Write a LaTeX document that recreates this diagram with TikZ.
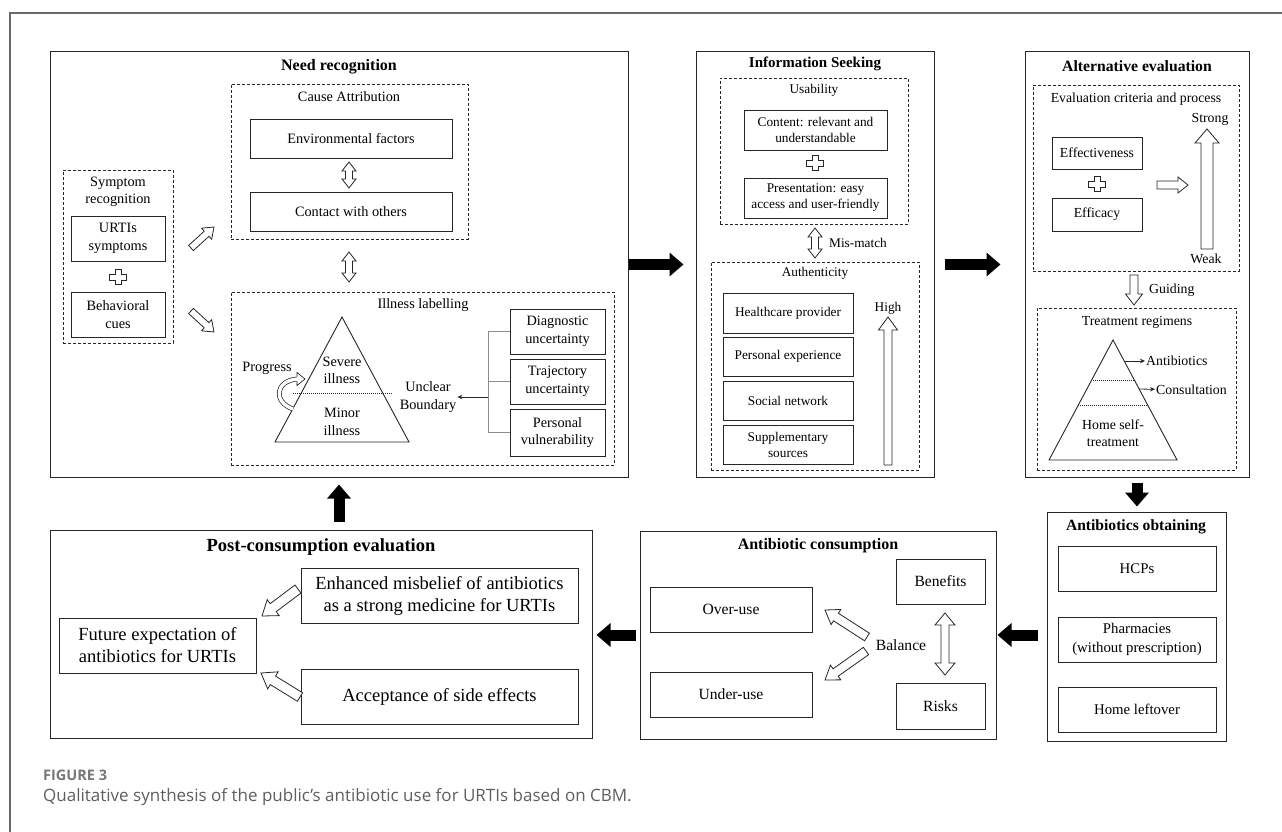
\documentclass[tikz,border=0pt]{standalone}
\usepackage{fontspec}
\setmainfont{Liberation Serif}
\newfontfamily\capfont{Open Sans}
\usepackage{xcolor}
\definecolor{cLine}{HTML}{262626}
\definecolor{cGray}{HTML}{8C8C8C}
\definecolor{cCap}{HTML}{5E5E5E}
\definecolor{cFrame}{HTML}{6A6A6A}
\usepackage{tikz}
\usetikzlibrary{positioning,arrows.meta,calc}
\newcommand{\fsz}[2]{\fontsize{#1}{#2}\selectfont}
\tikzset{
  node-frame/.style={draw=cLine,line width=1pt,inner sep=0pt},
  node-dash/.style={draw=cLine,line width=0.8pt,dash pattern=on 3pt off 2pt,inner sep=0pt},
  node-box/.style={draw=cLine,line width=0.9pt,align=center,inner sep=0pt},
  node-text/.style={align=center,inner sep=1pt},
  node-title/.style={inner sep=1pt,align=center},
  box-size/.style 2 args={minimum width=#1,minimum height=#2},
  fs-need/.style={font=\fsz{14.3}{17.5}},
  fs-info/.style={font=\fsz{13.3}{16}},
  fs-alt/.style={font=\fsz{13.8}{16.5}},
  fs-obt/.style={font=\fsz{14.8}{19}},
  fs-cons/.style={font=\fsz{15.6}{19}},
  fs-post/.style={font=\fsz{18.5}{22}},
  line-thin/.style={draw=cLine,line width=0.9pt},
  line-dot/.style={draw=cLine,line width=0.7pt,dash pattern=on 0.8pt off 1.2pt},
  line-gray/.style={draw=cGray,line width=0.8pt},
  arrow-small/.style={-{Stealth[length=5pt,width=4.5pt]},draw=cLine,line width=0.8pt},
  arrow-big/.style={line width=11pt,-{Triangle[length=14pt,width=23pt]},draw=black},
  % hollow block arrows: head half width, shaft half width, head length
  arrow-hollow/.style n args={3}{draw=cLine,fill=white,line width=0.8pt,
    to path={
      -- ($(\tikztostart)!#2!90:(\tikztotarget)$)
      -- ($($(\tikztotarget)!#3!(\tikztostart)$)!#2!-90:(\tikztostart)$)
      -- ($($(\tikztotarget)!#3!(\tikztostart)$)!#1!-90:(\tikztostart)$)
      -- (\tikztotarget)
      -- ($($(\tikztotarget)!#3!(\tikztostart)$)!#1!90:(\tikztostart)$)
      -- ($($(\tikztotarget)!#3!(\tikztostart)$)!#2!90:(\tikztostart)$)
      -- ($(\tikztostart)!#2!-90:(\tikztotarget)$)
      -- cycle}},
  arrow-double/.style n args={3}{draw=cLine,fill=white,line width=0.8pt,
    to path={
      -- ($($(\tikztostart)!#3!(\tikztotarget)$)!#1!90:(\tikztotarget)$)
      -- ($($(\tikztostart)!#3!(\tikztotarget)$)!#2!90:(\tikztotarget)$)
      -- ($($(\tikztotarget)!#3!(\tikztostart)$)!#2!-90:(\tikztostart)$)
      -- ($($(\tikztotarget)!#3!(\tikztostart)$)!#1!-90:(\tikztostart)$)
      -- (\tikztotarget)
      -- ($($(\tikztotarget)!#3!(\tikztostart)$)!#1!90:(\tikztostart)$)
      -- ($($(\tikztotarget)!#3!(\tikztostart)$)!#2!90:(\tikztostart)$)
      -- ($($(\tikztostart)!#3!(\tikztotarget)$)!#2!-90:(\tikztotarget)$)
      -- ($($(\tikztostart)!#3!(\tikztotarget)$)!#1!-90:(\tikztotarget)$)
      -- cycle}},
  plus-sign/.pic={\draw[draw=cLine,line width=0.8pt,fill=white]
    (-3,-7.5) -- (3,-7.5) -- (3,-3) -- (8.5,-3) -- (8.5,3) -- (3,3) -- (3,7.5)
    -- (-3,7.5) -- (-3,3) -- (-8.5,3) -- (-8.5,-3) -- (-3,-3) -- cycle;},
}

\begin{document}
\begin{tikzpicture}[x=1pt,y=-1pt]
  \useasboundingbox (0,0) rectangle (1282,832);
  \draw[draw=cFrame,line width=1.2pt] (10,832) -- (10,13) -- (1282,13);

  % Need recognition
  \node[node-frame,box-size={578}{425}] (need) at (339,264.5) {};
  \node[node-title,font=\fsz{16}{19}\bfseries] (needT) at (339,67) {Need recognition};
  \node[node-dash,box-size={237}{155}] (cause) at (349.5,161.5) {};
  \node[node-text,fs-need] (causeT) at (349,97) {Cause Attribution};
  \node[node-box,fs-need,box-size={202}{39}] (env) at (351,138.5) {Environmental factors};
  \node[node-box,fs-need,box-size={202}{39}] (contact) at (351,211.5) {Contact with others};
  \coordinate (ca1) at (349,162);
  \coordinate (ca2) at (349,188);
  \draw[arrow-double={7pt}{3.5pt}{9pt}] (ca1) to (ca2);

  \node[node-dash,box-size={110}{173}] (sym) at (118,256.5) {};
  \node[node-text,fs-need] (symT) at (118,192) {Symptom\\recognition};
  \node[node-box,fs-need,box-size={94}{45}] (urti) at (118,238.5) {URTIs\\symptoms};
  \pic at (118,277) {plus-sign};
  \node[node-box,fs-need,box-size={94}{45}] (behav) at (118,314.5) {Behavioral\\cues};
  \coordinate (su1) at (191,248);
  \coordinate (su2) at (214,227);
  \draw[arrow-hollow={7.5pt}{3.5pt}{10pt}] (su1) to (su2);
  \coordinate (sd1) at (191,311);
  \coordinate (sd2) at (214,332);
  \draw[arrow-hollow={7.5pt}{3.5pt}{10pt}] (sd1) to (sd2);
  \coordinate (ci1) at (349,252);
  \coordinate (ci2) at (349,282);
  \draw[arrow-double={7pt}{3.5pt}{9pt}] (ci1) to (ci2);

  \node[node-dash,box-size={383}{173}] (ill) at (422.5,378.5) {};
  \node[node-text,fs-need] (illT) at (423,305) {Illness labelling};
  \draw[line-thin] (342,317) -- (409,442) -- (275,442) -- cycle;
  \draw[line-dot] (293,393) -- (392,393);
  \node[node-text,fs-need] (severe) at (342,370.5) {Severe\\illness};
  \node[node-text,fs-need] (minor) at (342,422) {Minor\\illness};
  \node[node-text,fs-need] (prog) at (267,368) {Progress};
  \coordinate (pg1) at (293,409);
  \coordinate (pg2) at (297,379);
  \draw[draw=cLine,line width=0.7pt,double=white,double distance=3.4pt]
    (pg1) .. controls (273,402) and (275,381) .. (pg2);
  \path[fill=white] ($(pg2)+(0,-6.5)$) -- ($(pg2)+(8,0)$) -- ($(pg2)+(0,6.5)$) -- cycle;
  \draw[draw=cLine,line width=0.7pt] ($(pg2)+(0,-2.4)$) -- ($(pg2)+(0,-6.5)$)
    -- ($(pg2)+(8,0)$) -- ($(pg2)+(0,6.5)$) -- ($(pg2)+(0,2.4)$);
  \node[node-text,fs-need] (unclear) at (428,397) {Unclear\\Boundary};
  \node[node-box,fs-need,box-size={95}{45}] (diag) at (557.5,331.5) {Diagnostic\\uncertainty};
  \node[node-box,fs-need,box-size={95}{45}] (traj) at (557.5,381.5) {Trajectory\\uncertainty};
  \node[node-box,fs-need,box-size={95}{47}] (pers) at (557.5,432.5) {Personal\\vulnerability};
  \coordinate (brk) at (488,397);
  \draw[line-gray] (diag.west) -- (diag.west -| brk) -- (pers.west -| brk) -- (pers.west);
  \draw[line-gray] (traj.west) -- (traj.west -| brk);
  \draw[arrow-small] (brk) -- (unclear);

  % Information seeking
  \node[node-frame,box-size={238}{425}] (info) at (815,264.5) {};
  \node[node-title,font=\fsz{15}{18}\bfseries] (infoT) at (815,64) {Information Seeking};
  \node[node-dash,box-size={188}{146}] (usab) at (814,151) {};
  \node[node-text,fs-info] (usabT) at (814,90) {Usability};
  \node[node-box,fs-info,box-size={143}{40}] (content) at (815.5,130) {Content: relevant and\\understandable};
  \pic at (815,163) {plus-sign};
  \node[node-box,fs-info,box-size={143}{40}] (present) at (815.5,198) {Presentation: easy\\access and user-friendly};
  \coordinate (mm1) at (815,228);
  \coordinate (mm2) at (815,258);
  \draw[arrow-double={7pt}{3.5pt}{9pt}] (mm1) to (mm2);
  \node[node-text,fs-info,anchor=west] (mmT) at (828,243) {Mis-match};
  \node[node-dash,box-size={208}{208}] (auth) at (815,366) {};
  \node[node-text,fs-info] (authT) at (815,273) {Authenticity};
  \node[node-box,fs-info,box-size={130}{40}] (hcp) at (788,313) {Healthcare provider};
  \node[node-box,fs-info,box-size={130}{39}] (pexp) at (788,356.5) {Personal experience};
  \node[node-box,fs-info,box-size={130}{39}] (snet) at (788,400.5) {Social network};
  \node[node-box,fs-info,box-size={130}{39}] (supp) at (788,444.5) {Supplementary\\sources};
  \node[node-text,fs-info] (highT) at (888,308) {High};
  \coordinate (hi1) at (888,465);
  \coordinate (hi2) at (888,317);
  \draw[arrow-hollow={9.5pt}{4pt}{13pt}] (hi1) to (hi2);

  % Alternative evaluation
  \node[node-frame,box-size={224}{425}] (alt) at (1137,264.5) {};
  \node[node-title,font=\fsz{15.7}{19}\bfseries] (altT) at (1137,66) {Alternative evaluation};
  \node[node-dash,box-size={206}{186}] (crit) at (1136,178) {};
  \node[node-text,fs-alt] (critT) at (1136,99) {Evaluation criteria and process};
  \node[node-text,fs-alt] (strongT) at (1210,119) {Strong};
  \node[node-box,fs-alt,box-size={90}{32}] (effv) at (1097,153) {Effectiveness};
  \pic at (1097,184) {plus-sign};
  \node[node-box,fs-alt,box-size={90}{33}] (effc) at (1097,214.5) {Efficacy};
  \coordinate (ra1) at (1157,185);
  \coordinate (ra2) at (1188,185);
  \draw[arrow-hollow={8pt}{4pt}{10pt}] (ra1) to (ra2);
  \coordinate (sw1) at (1207,249);
  \coordinate (sw2) at (1207,129);
  \draw[arrow-hollow={12pt}{6pt}{14pt}] (sw1) to (sw2);
  \node[node-text,fs-alt] (weakT) at (1206,259) {Weak};
  \coordinate (gd1) at (1134,275);
  \coordinate (gd2) at (1134,305);
  \draw[arrow-hollow={8.5pt}{4pt}{11pt}] (gd1) to (gd2);
  \node[node-text,fs-alt,anchor=west] (guideT) at (1148,290) {Guiding};
  \node[node-dash,box-size={199}{162}] (treat) at (1136.5,389) {};
  \node[node-text,fs-alt] (treatT) at (1137,322) {Treatment regimens};
  \draw[line-thin] (1113,340) -- (1177,460) -- (1049,460) -- cycle;
  \draw[line-dot] (1091,380) -- (1135,380);
  \draw[line-dot] (1078,405) -- (1148,405);
  \coordinate (ab0) at (1124,361);
  \node[node-text,fs-alt,anchor=west] (abT) at (1145,361) {Antibiotics};
  \draw[arrow-small] (ab0) -- (abT);
  \coordinate (cs0) at (1139,389);
  \node[node-text,fs-alt,anchor=west] (csT) at (1155,390) {Consultation};
  \draw[arrow-small] (cs0) -- (csT);
  \node[node-text,fs-alt] (homeT) at (1113,433) {Home self-\\treatment};

  % Antibiotics obtaining
  \node[node-frame,box-size={179}{229}] (obt) at (1136.5,626.5) {};
  \node[node-title,font=\fsz{15.6}{19}\bfseries] (obtT) at (1136,527) {Antibiotics obtaining};
  \node[node-box,fs-obt,box-size={158}{45}] (hcps) at (1137,568.5) {HCPs};
  \node[node-box,fs-obt,box-size={158}{45}] (pharm) at (1137,639.5) {Pharmacies\\(without prescription)};
  \node[node-box,fs-obt,box-size={158}{45}] (leftover) at (1137,709.5) {Home leftover};

  % Antibiotic consumption
  \node[node-frame,box-size={356}{208}] (cons) at (818,635) {};
  \node[node-title,font=\fsz{16}{19}\bfseries] (consT) at (818,546) {Antibiotic consumption};
  \node[node-box,fs-cons,box-size={162}{45}] (over) at (731,609.5) {Over-use};
  \node[node-box,fs-cons,box-size={162}{45}] (under) at (731,694.5) {Under-use};
  \node[node-box,fs-cons,box-size={89}{45}] (ben) at (940.5,581.5) {Benefits};
  \node[node-box,fs-cons,box-size={89}{46}] (risk) at (940.5,706) {Risks};
  \node[node-text,fs-cons] (bal) at (901,645) {Balance};
  \coordinate (bl1) at (945,613);
  \coordinate (bl2) at (945,675);
  \draw[arrow-double={10pt}{4pt}{12pt}] (bl1) to (bl2);
  \coordinate (ou1) at (867,637);
  \coordinate (ou2) at (825,610);
  \draw[arrow-hollow={9pt}{4.5pt}{13pt}] (ou1) to (ou2);
  \coordinate (uu1) at (866,651);
  \coordinate (uu2) at (825,680);
  \draw[arrow-hollow={9pt}{4.5pt}{13pt}] (uu1) to (uu2);

  % Post-consumption evaluation
  \node[node-frame,box-size={542}{208}] (post) at (321,634) {};
  \node[node-title,font=\fsz{18.5}{22}\bfseries] (postT) at (321,547) {Post-consumption evaluation};
  \node[node-box,fs-post,box-size={277}{55}] (mis) at (439.5,595.5) {Enhanced misbelief of antibiotics\\as a strong medicine for URTIs};
  \node[node-box,fs-post,box-size={197}{55}] (fut) at (157.5,645.5) {Future expectation of\\antibiotics for URTIs};
  \node[node-box,fs-post,box-size={277}{55}] (acc) at (439.5,696.5) {Acceptance of side effects};
  \coordinate (pm1) at (298,589);
  \coordinate (pm2) at (262,616);
  \draw[arrow-hollow={10pt}{5pt}{14pt}] (pm1) to (pm2);
  \coordinate (pa1) at (300,697);
  \coordinate (pa2) at (261,673);
  \draw[arrow-hollow={10pt}{5pt}{14pt}] (pa1) to (pa2);

  % flow between stages
  \draw[arrow-big,shorten >=12pt] (need) -- (info);
  \draw[arrow-big,shorten <=10pt,shorten >=24pt] (info) -- (alt);
  \draw[arrow-big,shorten <=5pt,shorten >=5pt] (alt.south) -- (alt.south |- obt.north);
  \draw[arrow-big,shorten <=9pt,shorten >=1pt] (obt.west |- cons.east) -- (cons.east);
  \draw[arrow-big,shorten <=4pt,shorten >=4pt] (cons.west) -- (cons.west -| post.east);
  \draw[arrow-big,shorten <=8pt,shorten >=7pt] (post.north -| need.south) -- (need.south);

  \node[anchor=west,inner sep=0pt,font=\capfont\fsz{14.5}{17}\bfseries,text=cCap!85] (figT) at (43,775) {FIGURE 3};
  \node[anchor=west,inner sep=0pt,font=\capfont\fsz{17}{20},text=cCap] (capT) at (43,797) {Qualitative synthesis of the public’s antibiotic use for URTIs based on CBM.};
\end{tikzpicture}
\end{document}
